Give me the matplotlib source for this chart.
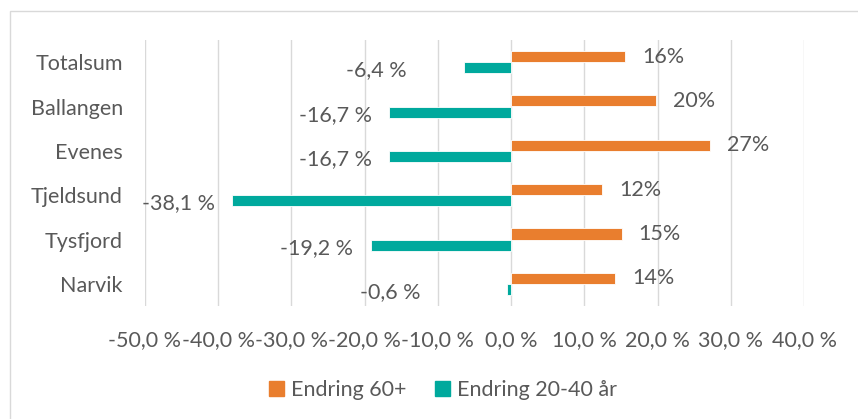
import matplotlib.pyplot as plt
from matplotlib.patches import Rectangle, Patch

categories = ["Totalsum", "Ballangen", "Evenes", "Tjeldsund", "Tysfjord", "Narvik"]
endring_60 = [15.6, 19.8, 27.1, 12.4, 15.1, 14.2]
endring_20_40 = [-6.4, -16.7, -16.7, -38.1, -19.2, -0.6]
x_ticks = [-50, -40, -30, -20, -10, 0, 10, 20, 30, 40]

orange = "#E97E2E"
teal = "#00A99D"
grey_text = "#595959"
fs = 15.5

plt.rcParams['font.family'] = ['Lato', 'DejaVu Sans']

fig = plt.figure(figsize=(8.58, 4.19), dpi=100)
ax = fig.add_axes([145 / 858, (419 - 306) / 419, (804 - 145) / 858, 266 / 419])

# outer chart frame (only top and left edges are visible in the crop)
fig.patches.append(Rectangle((10 / 858, -0.1), 1.2, 1 - 11 / 419 + 0.1,
                             transform=fig.transFigure, fill=False,
                             edgecolor="#D9D9D9", linewidth=1.0))

y = list(range(len(categories)))
h = 0.25
y_or = [v - h / 2 for v in y]
y_te = [v + h / 2 for v in y]

ax.barh(y_or, endring_60, height=h, color=orange, edgecolor="white", linewidth=0.6, zorder=3)
ax.barh(y_te, endring_20_40, height=h, color=teal, edgecolor="white", linewidth=0.6, zorder=3)

# value labels
for yy, v in zip(y_or, endring_60):
    ax.annotate(f"{v:.0f}%", (v, yy), xytext=(17 * 0.72, 0), textcoords="offset points",
                ha="left", va="center", fontsize=fs, color=grey_text)

teal_gap_px = [58, 17, 17, 17, 18, 86]
for yy, v, g in zip(y_te, endring_20_40, teal_gap_px):
    txt = f"{v:.1f} %".replace(".", ",")
    ax.annotate(txt, (v, yy), xytext=(-g * 0.72, -2), textcoords="offset points",
                ha="right", va="center", fontsize=fs, color=grey_text)

ax.set_xlim(-50, 40)
ax.set_ylim(len(categories) - 0.5, -0.5)
ax.set_xticks(x_ticks)
ax.set_xticklabels([f"{t:.1f} %".replace(".", ",") for t in x_ticks])
ax.set_yticks(y)
ax.set_yticklabels(categories)
ax.tick_params(axis="both", length=0, labelsize=fs, colors=grey_text)
ax.tick_params(axis="x", pad=17)
ax.tick_params(axis="y", pad=16)
ax.grid(axis="x", color="#D9D9D9", linewidth=1.0, zorder=0)
for s in ax.spines.values():
    s.set_visible(False)

handles = [Patch(color=orange, label="Endring 60+"), Patch(color=teal, label="Endring 20-40 år")]
leg = fig.legend(handles=handles, loc="center", bbox_to_anchor=(443 / 858, 1 - 390 / 419),
                 ncol=2, frameon=False, fontsize=fs, handlelength=0.7, handleheight=0.7,
                 handletextpad=0.35, columnspacing=1.3)
for t in leg.get_texts():
    t.set_color(grey_text)

plt.savefig("out.png", dpi=100)
